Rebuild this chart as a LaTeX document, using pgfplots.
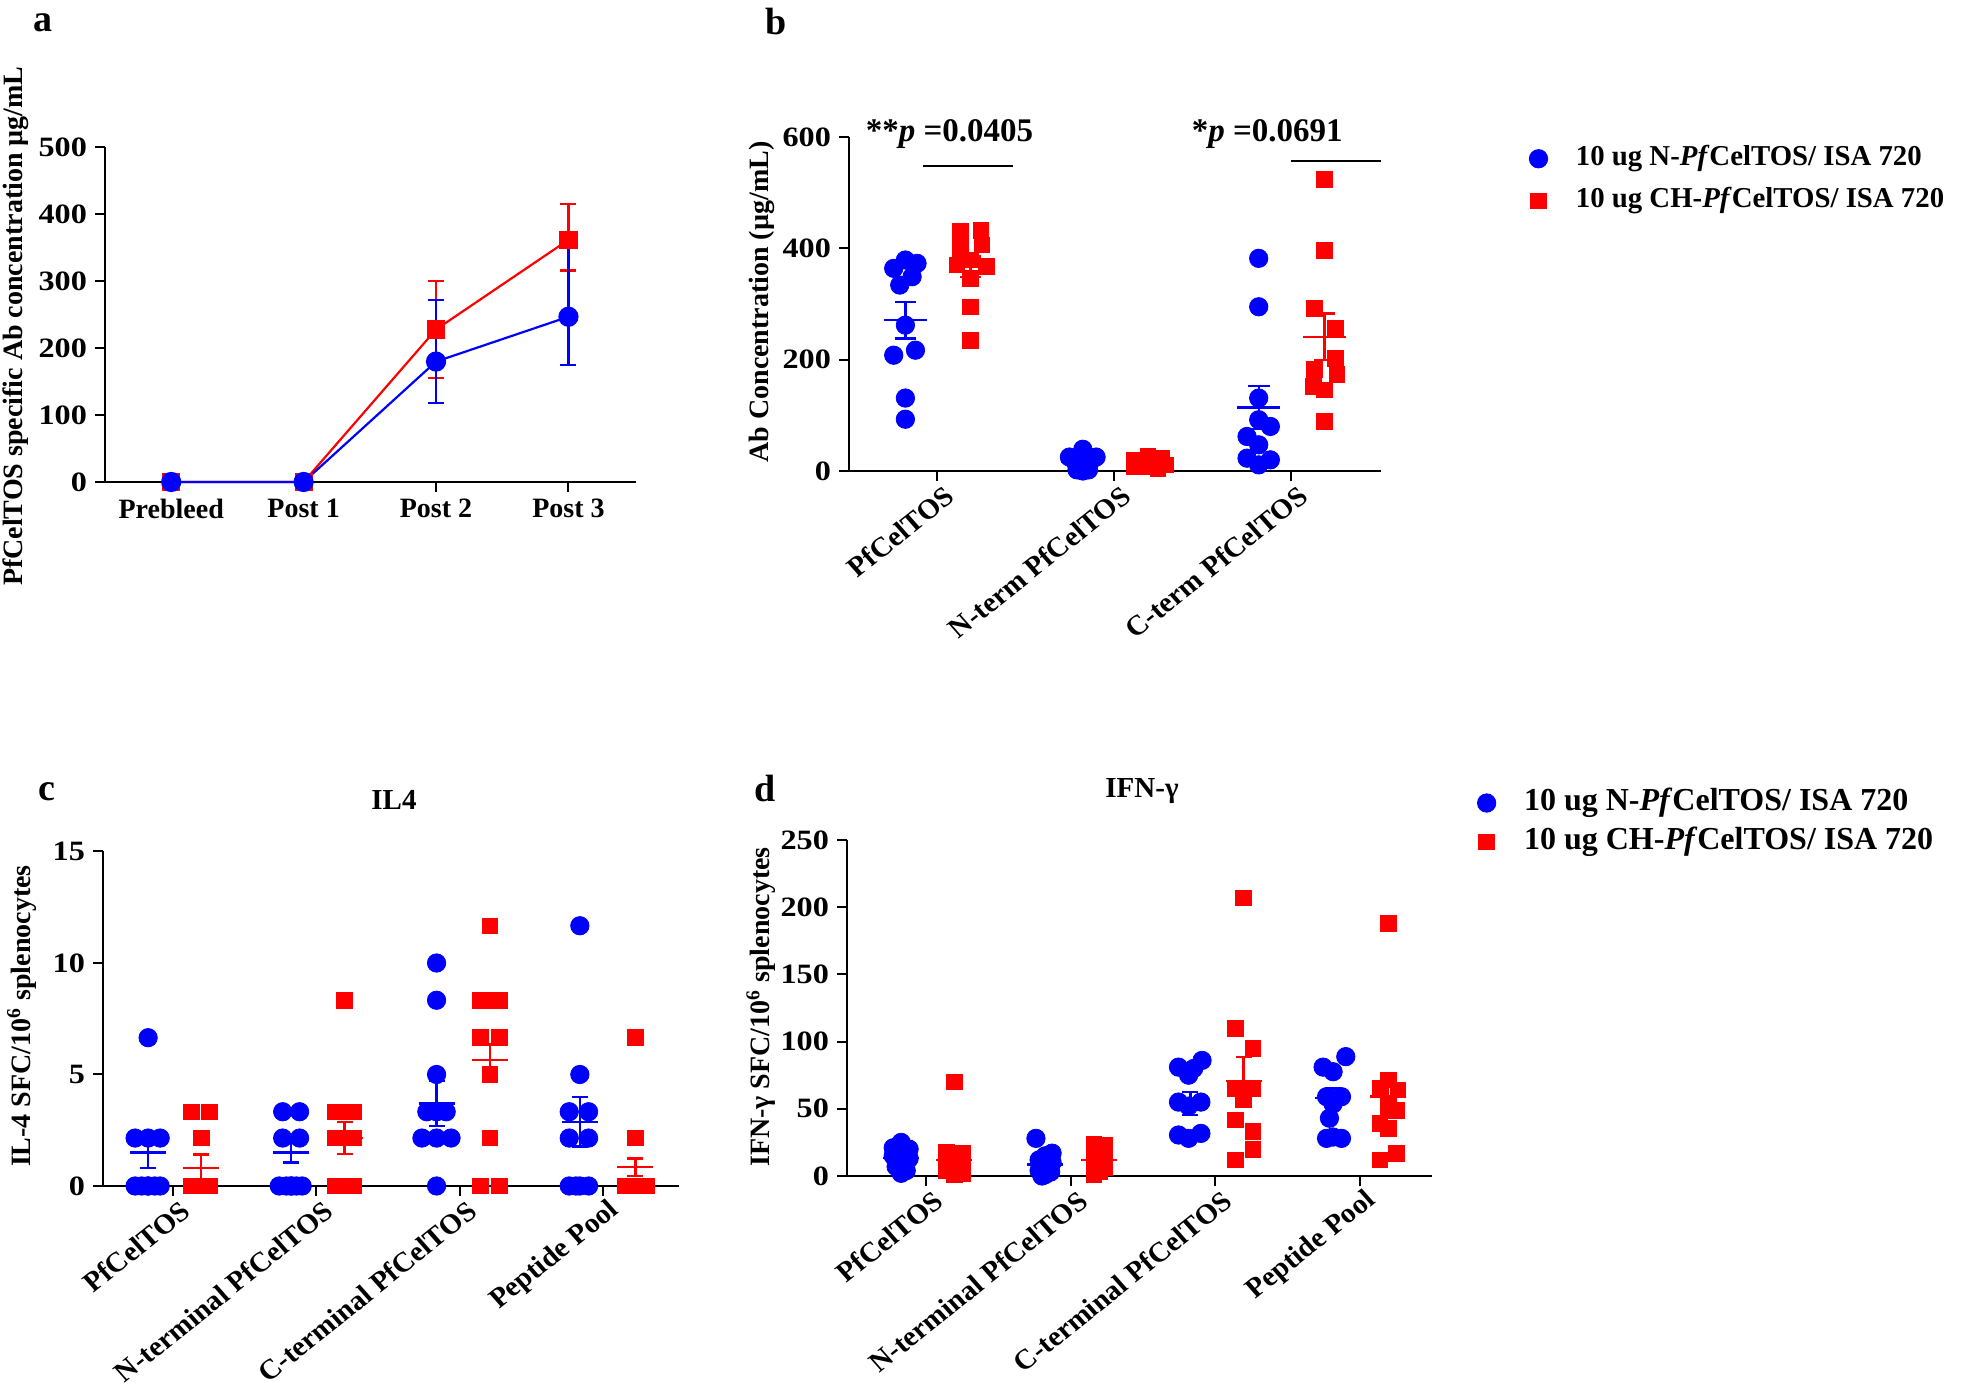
\documentclass[border=0pt]{standalone}
\usepackage{fontspec}
\setmainfont{Liberation Serif}
\usepackage{pgfplots}
\pgfplotsset{compat=1.18}

\newcommand\lab{\fontsize{14}{16}\selectfont\bfseries}

\pgfplotsset{
  panel/.style={
    scale only axis, anchor=south west, enlargelimits=false, clip=false,
    axis x line=bottom, axis y line=left,
    axis line style={-, line width=1pt},
    tick style={line width=1pt, black},
    major tick length=5pt, tick align=outside,
    tick label style={font=\lab},
    yticklabel style={xscale=1.15},
    label style={font=\lab},
    /pgf/number format/assume math mode=true,
  },
  rot/.style={xticklabel style={font=\lab,
    xshift=9pt, yshift=-3.5pt, xscale=1.05, rotate=40, anchor=east}},
  bdot/.style={blue, only marks, mark=*, mark size=4.6pt},
  rdot/.style={red, only marks, mark=square*, mark size=3.9pt},
  mean/.style 2 args={only marks, mark=-, mark size=#1, mark options={line width=1.2pt}, forget plot,
    error bars/.cd, y dir=both, y explicit, error bar style={line width=1.2pt},
    error mark options={rotate=90, line width=1.2pt, mark size=#2}},
  leg/.style n args={4}{legend cell align=left,
    legend style={draw=none, fill=none, at={(axis description cs:#1,#2)}, anchor=west,
      font=\fontsize{#3}{17}\selectfont\bfseries, row sep=#4, inner sep=0pt,
      nodes={inner sep=2pt, text height=10pt, text depth=3pt}},
    legend image code/.code={\draw[##1] plot coordinates {(0pt,0pt)}; \path (16.5pt,0pt);}},
}

\begin{document}
\begin{tikzpicture}
\useasboundingbox (0,0) rectangle (980.5pt,698.5pt);

% panel letters and titles
\node[anchor=base west, font=\fontsize{19}{22}\selectfont\bfseries, inner sep=0] at (16.7pt,682.5pt) {a};
\node[anchor=base west, font=\fontsize{19}{22}\selectfont\bfseries, inner sep=0] at (382.5pt,681pt) {b};
\node[anchor=base west, font=\fontsize{19}{22}\selectfont\bfseries, inner sep=0] at (18.9pt,298.2pt) {c};
\node[anchor=base west, font=\fontsize{19}{22}\selectfont\bfseries, inner sep=0] at (377pt,297.6pt) {d};
\node[anchor=base, font=\fontsize{14.5}{17}\selectfont\bfseries, inner sep=0] at (197pt,293.7pt) {IL4};
\node[anchor=base, font=\fontsize{14.5}{17}\selectfont\bfseries, inner sep=0] at (571pt,299.5pt) {IFN-γ};

% ---------- a ----------
\begin{axis}[panel, at={(52.5pt,457.5pt)}, width=265.5pt, height=167.25pt,
  xmin=-0.5, xmax=3.51, ymin=0, ymax=500,
  xtick={0,1,2,3}, xticklabels={Prebleed,Post 1,Post 2,Post 3},
  ytick={0,100,200,300,400,500},
  ylabel={PfCelTOS specific Ab concentration µg/mL},
  ylabel style={at={(axis description cs:-0.169,0.466)}, anchor=center}]
\addplot[red, line width=1.1pt, mark=square*, mark size=4pt,
  error bars/.cd, y dir=both, y explicit, error bar style={line width=1.1pt},
  error mark options={rotate=90, line width=1.1pt, mark size=4pt}]
  coordinates {(0,0) +- (0,0) (1,0) +- (0,0) (2,228) += (0,72) -= (0,72) (3,362) += (0,53) -= (0,46)};
\addplot[blue, line width=1.1pt, mark=*, mark size=4.5pt,
  error bars/.cd, y dir=both, y explicit, error bar style={line width=1.1pt},
  error mark options={rotate=90, line width=1.1pt, mark size=4pt}]
  coordinates {(0,0) +- (0,0) (1,0) +- (0,0) (2,180) += (0,92) -= (0,62) (3,247) += (0,105) -= (0,72)};
\end{axis}

% ---------- b ----------
\begin{axis}[panel, rot, at={(424.5pt,463pt)}, width=266pt, height=167pt,
  xmin=-0.5, xmax=2.51, ymin=0, ymax=600,
  xtick={0,1,2}, xticklabels={PfCelTOS,N-term PfCelTOS,C-term PfCelTOS},
  ytick={0,200,400,600},
  ylabel={Ab Concentration (µg/mL)},
  ylabel style={at={(axis description cs:-0.1635,0.506)}, anchor=center},
  leg={1.278}{0.872}{14.4}{4pt}]
\addplot[bdot] coordinates {
  (-0.247,364) (-0.181,379) (-0.115,373) (-0.143,349) (-0.213,334) (-0.181,262) (-0.247,208) (-0.124,217) (-0.181,131) (-0.181,93)
  (0.823,39) (0.747,25) (0.898,25) (0.823,25) (0.785,14) (0.86,14) (0.823,8) (0.79,2) (0.855,2) (0.823,0)
  (1.818,382) (1.818,295) (1.818,131) (1.818,92) (1.884,80) (1.752,62) (1.818,47) (1.752,23) (1.884,20) (1.818,11)};
\addlegendentry{10 ug N-\textit{Pf}CelTOS/ ISA 720}
\addplot[rdot] coordinates {
  (0.13,430) (0.247,432) (0.13,400) (0.253,406) (0.111,370) (0.277,368) (0.187,346) (0.187,379) (0.187,295) (0.187,235)
  (1.115,20) (1.19,26) (1.266,23) (1.294,11) (1.115,8) (1.19,8) (1.247,5) (1.153,14) (1.228,14) (1.19,17)
  (2.191,524) (2.191,396) (2.133,292) (2.252,256) (2.252,202) (2.133,183) (2.261,173) (2.126,152) (2.191,146) (2.191,89)};
\addlegendentry{10 ug CH-\textit{Pf}CelTOS/ ISA 720}
\addplot[blue, mean={10.8pt}{5.4pt}] coordinates {(-0.181,271) +- (0,33) (0.823,17) +- (0,3) (1.818,114) +- (0,39)};
\addplot[red, mean={10.8pt}{5.4pt}] coordinates {(0.187,367) +- (0,18) (1.19,14) +- (0,2) (2.191,241) +- (0,42)};
\node[anchor=base west, font=\fontsize{16.5}{19}\selectfont\bfseries, inner sep=0] at (axis cs:-0.407,591.5) {**\textit{p} =0.0405};
\node[anchor=base west, font=\fontsize{16.5}{19}\selectfont\bfseries, inner sep=0] at (axis cs:1.437,591.5) {*\textit{p} =0.0691};
\draw[line width=1pt] (axis cs:-0.08,548) -- (axis cs:0.43,548);
\draw[line width=1pt] (axis cs:2.0,557) -- (axis cs:2.51,557);
\end{axis}

% ---------- c ----------
\begin{axis}[panel, rot, at={(51.5pt,105.5pt)}, width=288pt, height=167.25pt,
  xmin=-0.49, xmax=3.53, ymin=0, ymax=15,
  xtick={0,1,2,3}, xticklabels={PfCelTOS,N-terminal PfCelTOS,C-terminal PfCelTOS,Peptide Pool},
  ytick={0,5,10,15},
  ylabel={IL-4 SFC/10\textsuperscript{6} splenocytes},
  ylabel style={at={(axis description cs:-0.141,0.508)}, anchor=center}]
\addplot[bdot] coordinates {
  (-0.175,6.65) (-0.266,2.15) (-0.091,2.15) (-0.175,2.15) (-0.266,0) (-0.22,0) (-0.175,0) (-0.13,0) (-0.091,0) (-0.175,0)
  (0.764,3.33) (0.882,3.33) (0.764,2.15) (0.882,2.15) (0.74,0) (0.79,0) (0.824,0) (0.86,0) (0.9,0) (0.824,0)
  (1.838,10) (1.838,8.33) (1.838,5) (1.77,3.33) (1.905,3.33) (1.838,3.33) (1.736,2.15) (1.838,2.15) (1.939,2.15) (1.838,0)
  (2.838,11.67) (2.838,5) (2.764,3.33) (2.899,3.33) (2.764,2.15) (2.899,2.15) (2.764,0) (2.838,0) (2.899,0) (2.81,0)};
\addplot[rdot] coordinates {
  (0.129,3.33) (0.254,3.33) (0.196,2.15) (0.129,0) (0.196,0) (0.254,0) (0.16,0) (0.23,0) (0.196,0) (0.196,0)
  (1.196,8.33) (1.13,3.33) (1.26,3.33) (1.196,3.33) (1.13,2.15) (1.26,2.15) (1.13,0) (1.196,0) (1.26,0) (1.16,0)
  (2.21,11.67) (2.143,8.33) (2.278,8.33) (2.21,8.33) (2.143,6.67) (2.278,6.67) (2.21,5) (2.21,2.15) (2.143,0) (2.278,0)
  (3.226,6.67) (3.226,2.15) (3.152,0) (3.226,0) (3.304,0) (3.19,0) (3.26,0) (3.226,0) (3.17,0) (3.29,0)};
\addplot[blue, mean={9pt}{4pt}] coordinates {(-0.175,1.51) +- (0,0.7) (0.824,1.51) +- (0,0.45) (1.838,3.7) +- (0,1.0) (2.838,2.88) +- (0,1.1)};
\addplot[red, mean={9pt}{4pt}] coordinates {(0.196,0.82) +- (0,0.6) (1.196,2.15) +- (0,0.72) (2.21,5.65) +- (0,0.7) (3.226,0.84) +- (0,0.4)};
\end{axis}

% ---------- d ----------
\begin{axis}[panel, rot, at={(423.5pt,110.5pt)}, width=292.5pt, height=168pt,
  xmin=-0.55, xmax=3.5, ymin=0, ymax=250,
  xtick={0,1,2,3}, xticklabels={PfCelTOS,N-terminal PfCelTOS,C-terminal PfCelTOS,Peptide Pool},
  ytick={0,50,100,150,200,250},
  ylabel={IFN-γ SFC/10\textsuperscript{6} splenocytes},
  ylabel style={at={(axis description cs:-0.147,0.503)}, anchor=center},
  leg={1.077}{1.052}{16}{2.5pt}]
\addplot[bdot] coordinates {
  (-0.175,25) (-0.23,21) (-0.12,20) (-0.175,18) (-0.23,15) (-0.12,13) (-0.175,10) (-0.21,7) (-0.14,4) (-0.175,2)
  (0.758,28) (0.87,17) (0.822,15) (0.78,12) (0.87,10) (0.822,6) (0.78,4) (0.86,3) (0.822,1) (0.8,0)
  (1.745,81) (1.815,75) (1.908,86) (1.85,80) (1.745,55) (1.9,55) (1.815,52) (1.745,30.5) (1.9,31.7) (1.815,28)
  (2.746,81) (2.815,77.6) (2.903,88.8) (2.873,59) (2.77,59) (2.815,53.6) (2.79,43) (2.815,29) (2.873,28) (2.77,28)};
\addlegendentry{10 ug N-\textit{Pf}CelTOS/ ISA 720}
\addplot[rdot] coordinates {
  (0.194,70) (0.14,18) (0.25,17) (0.194,15) (0.14,11) (0.25,10) (0.194,7) (0.14,4) (0.25,2) (0.194,1)
  (1.16,24) (1.23,23) (1.196,22) (1.16,20) (1.23,15) (1.196,12) (1.16,10) (1.23,6) (1.196,3) (1.16,1)
  (2.196,207) (2.139,110) (2.26,95) (2.139,65) (2.255,65) (2.196,56.5) (2.139,41.7) (2.26,33) (2.26,20) (2.139,12)
  (3.196,188) (3.196,71.4) (3.139,65.3) (3.265,64) (3.196,51.6) (3.254,49) (3.139,39.2) (3.196,35.5) (3.254,17) (3.139,12)};
\addlegendentry{10 ug CH-\textit{Pf}CelTOS/ ISA 720}
\addplot[blue, mean={9pt}{4pt}] coordinates {(-0.175,13.4) +- (0,3) (0.822,8.5) +- (0,2.5) (1.827,54) +- (0,8.5) (2.815,58) +- (0,7)};
\addplot[red, mean={9pt}{4pt}] coordinates {(0.194,12) +- (0,5.5) (1.196,12) +- (0,2.5) (2.196,70.7) +- (0,18) (3.196,59) +- (0,15)};
\end{axis}
\end{tikzpicture}
\end{document}
